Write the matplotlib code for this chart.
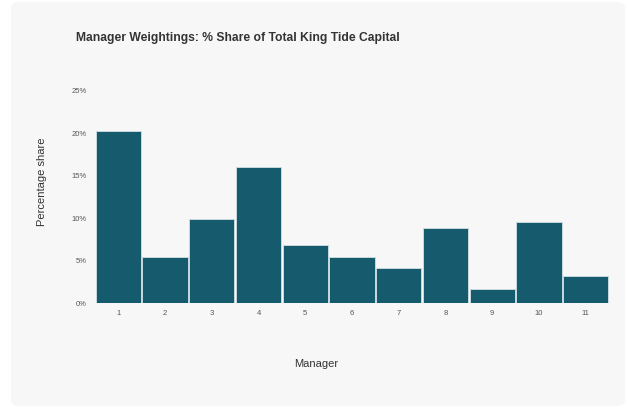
import matplotlib.pyplot as plt
from matplotlib.patches import FancyBboxPatch
from matplotlib.ticker import FuncFormatter

plt.rcParams['font.family'] = ['Liberation Sans', 'DejaVu Sans']

managers = ['1', '2', '3', '4', '5', '6', '7', '8', '9', '10', '11']
share = [20.2, 5.4, 9.95, 16.0, 6.8, 5.5, 4.15, 8.8, 1.65, 9.6, 3.25]
y_ticks = [0, 5, 10, 15, 20, 25]

W, H = 627, 412
fig = plt.figure(figsize=(W / 100, H / 100), dpi=100)
fig.patch.set_facecolor('white')

# rounded grey card behind everything
card = FancyBboxPatch((11 / W, 6 / H), (625 - 11) / W, (410 - 6) / H,
                      boxstyle='round,pad=0,rounding_size=0.013',
                      transform=fig.transFigure, facecolor='#f7f7f7',
                      edgecolor='none', zorder=-5)
fig.patches.append(card)

ax = fig.add_axes([95 / W, (H - 303.3) / H, (609 - 95) / W, (303.3 - 60) / H])
ax.set_facecolor('none')
ax.set_zorder(2)

x = list(range(len(managers)))
ax.bar(x, share, width=0.97, color='#165a6e', edgecolor='#c9d9de', linewidth=0.7)

ax.set_xlim(-0.5, len(managers) - 0.5)
ax.set_ylim(0, 28.6)
ax.set_xticks(x)
ax.set_xticklabels(managers)
ax.set_yticks(y_ticks)
ax.yaxis.set_major_formatter(FuncFormatter(lambda v, p: '%d%%' % v))
ax.tick_params(axis='both', length=0, labelsize=5.5, labelcolor='#555555')
ax.tick_params(axis='y', pad=6)
ax.tick_params(axis='x', pad=5)
for s in ax.spines.values():
    s.set_visible(False)

ax.set_ylabel('Percentage share', fontsize=8, color='#333333')
ax.yaxis.set_label_coords((41.7 - 95) / (609 - 95), 0.5)
ax.set_xlabel('Manager', fontsize=8, color='#333333')
ax.xaxis.set_label_coords((316 - 95) / (609 - 95), -(364 - 303.3) / (303.3 - 60))
ax.xaxis.label.set_va('center')
ax.yaxis.label.set_va('center')

fig.text(76 / W, 1 - 38 / H, 'Manager Weightings: % Share of Total King Tide Capital',
         fontsize=8.7, fontweight='bold', color='#333333', ha='left', va='center',
         zorder=3)

fig.savefig('out.png', dpi=100, facecolor=fig.get_facecolor())
